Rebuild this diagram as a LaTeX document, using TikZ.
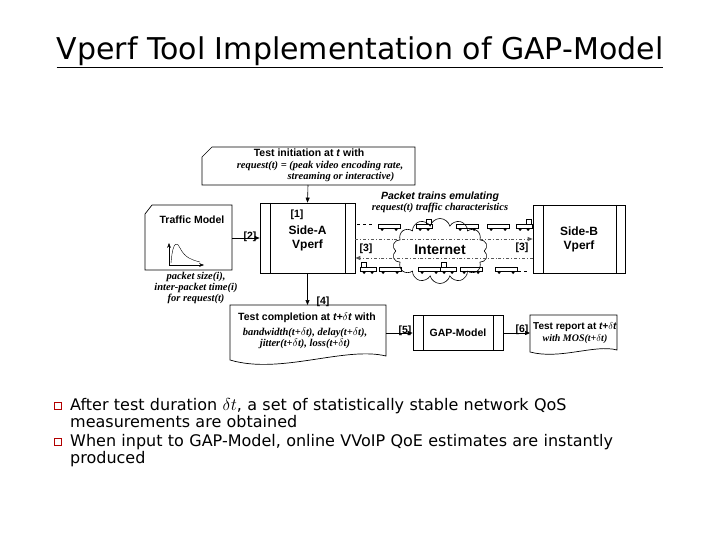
\documentclass[tikz,border=0pt]{standalone}
\usepackage{fontspec}
\setmainfont{DejaVu Sans}
\newfontfamily\diag{Liberation Sans}
\newfontfamily\diagser{Liberation Serif}
\usetikzlibrary{arrows.meta,shapes.symbols}
\begin{document}
\begin{tikzpicture}[x=1pt,y=-1pt,
 box/.style={draw,line width=0.7pt},
 lab/.style={font=\diag\bfseries\fontsize{10.5}{11}\selectfont},
 it/.style={font=\diagser\bfseries\itshape\fontsize{10.5}{11}\selectfont, align=center},
 arr/.style={-{Triangle[length=5pt,width=4pt]},line width=0.6pt},
 dd/.style={-{Triangle[length=5pt,width=4pt]},line width=0.8pt,dash dot,gray!70!black},
 car/.style={line width=0.5pt}]
\useasboundingbox (0,0) rectangle (720,540);
\node[font=\fontsize{30}{32}\selectfont] (title) at (360,52) {\underline{Vperf Tool Implementation of GAP-Model}};
% test initiation
\draw[box] (212,147) -- (415,147) -- (415,185) -- (202,185) -- (202,157) -- cycle;
\node[lab] (ti) at (309,153) {Test initiation at \textit{t} with};
\node[it] (req) at (320,171) {request(t) = (peak video encoding rate,\\ \hspace{4em}streaming or interactive)};
\coordinate (tib) at (308,185);
% Side-A / Side-B
\node[box,minimum width=95pt,minimum height=70pt,align=center,font=\diag\bfseries\fontsize{12}{14}\selectfont] (sa) at (307.5,238) {Side-A\\Vperf};
\draw (270,203) -- (270,273) (345,203) -- (345,273);
\node[box,minimum width=92pt,minimum height=68pt,align=center,font=\diag\bfseries\fontsize{12}{14}\selectfont] (sb) at (579,239) {Side-B\\Vperf};
\draw (543,205) -- (543,273) (616,205) -- (616,273);
% traffic model
\draw[box] (152,205) -- (232,205) -- (232,270) -- (145,270) -- (145,214) -- cycle;
\node[lab] (tmn) at (192,220) {Traffic Model};
\draw[->,>=Stealth,line width=0.4pt] (169,265) -- (169,243);
\draw[->,>=Stealth,line width=0.4pt] (169,265) -- (204,265);
\draw[line width=0.4pt] (171,263) .. controls (173,238) and (178,243) .. (180,248) .. controls (185,258) and (192,260) .. (200,262);
\node[it,anchor=north] (ps) at (196,269) {packet size(i),\\inter-packet time(i)\\for request(t)};
% cloud
\node[cloud,draw,cloud puffs=14,aspect=1.6,minimum width=95pt,minimum height=65pt,fill=white,line width=0.6pt] (net) at (440,251) {};
\node[font=\diag\bfseries\fontsize{14}{15}\selectfont] (nt) at (440,250) {Internet};
\node[it] (pt) at (440,202) {{\diag Packet trains emulating}\\ request(t) traffic characteristics};
% trains
\foreach \x in {378,456,487} {\draw[car] (\x,224) rectangle ++(22,4); \fill (\x+4,229.5) circle (1.5) (\x+18,229.5) circle (1.5);}
\foreach \x in {416,516} {\draw[car] (\x,224) rectangle ++(16,4) (\x+10,224) rectangle ++(5,-5); \fill (\x+4,229.5) circle (1.5) (\x+12,229.5) circle (1.5);}
\foreach \x in {379,418,460,495} {\draw[car] (\x,267) rectangle ++(22,4); \fill (\x+4,272.5) circle (1.5) (\x+18,272.5) circle (1.5);}
\foreach \x in {360,440} {\draw[car] (\x,267) rectangle ++(16,4) (\x+1,267) rectangle ++(5,-5); \fill (\x+4,272.5) circle (1.5) (\x+12,272.5) circle (1.5);}
\draw[dashed,line width=0.4pt] (357,224)--(374,224) (518,271)--(530,271);
% arrows
\draw[arr] (tib) -- (sa.north);
\node[lab] (l1) at (297,215) {[1]};
\draw[arr] (232,238) -- (sa.west);
\node[lab] (l2) at (250,237) {[2]};
\draw[dd] (sa.east |- 0,239) -- (sb.west |- 0,239);
\draw[dd] (sb.west |- 0,258) -- (sa.east |- 0,258);
\node[lab] (l3a) at (366,249) {[3]};
\node[lab] (l3b) at (522,248) {[3]};
% completion doc
\draw[box] (230,305) -- (386,305) -- (386,356) .. controls (345,346) and (280,375) .. (230,360) -- cycle;
\node[lab] (tc) at (307,318) {Test completion at \textit{t+$\delta$t} with};
\node[it,anchor=north] (bw) at (305,324) {bandwidth(t+$\delta$t), delay(t+$\delta$t),\\ jitter(t+$\delta$t), loss(t+$\delta$t)};
\draw[arr] (sa.south) -- (307.5,305);
\node[lab] (l4) at (323,302) {[4]};
% GAP
\node[box,minimum width=90pt,minimum height=35pt,font=\diag\bfseries\fontsize{10.5}{11}\selectfont] (gap) at (458,333) {GAP-Model};
\draw (423,315.5) -- (423,350.5) (493,315.5) -- (493,350.5);
\draw[arr] (386,333) -- (gap.west);
\node[lab] (l5) at (405,331) {[5]};
% report
\draw[box] (530,315) -- (617,315) -- (617,350) .. controls (595,344) and (560,360) .. (530,352) -- cycle;
\node[lab,align=center,font=\diag\bfseries\fontsize{10}{12}\selectfont] (tr) at (575,333) {Test report at \textit{t+$\delta$t}\\ {\diagser\itshape with MOS(t+$\delta$t)}};
\draw[arr] (gap.east) -- (530,333);
\node[lab] (l6) at (522,330) {[6]};
% bullets
\node[draw,inner sep=0pt,minimum size=7pt,line width=0.8pt,red!70!black] (b1) at (58,406) {};
\node[draw,inner sep=0pt,minimum size=7pt,line width=0.8pt,red!70!black] (b2) at (58,442) {};
\node[anchor=north west,align=left,font=\fontsize{16}{17}\selectfont,text width=640pt,inner sep=0pt] (t1) at (70,398) {After test duration $\delta t$, a set of statistically stable network QoS\\ measurements are obtained};
\node[anchor=north west,align=left,font=\fontsize{16}{17}\selectfont,text width=640pt,inner sep=0pt] (t2) at (70,434) {When input to GAP-Model, online VVoIP QoE estimates are instantly\\ produced};
\end{tikzpicture}
\end{document}
